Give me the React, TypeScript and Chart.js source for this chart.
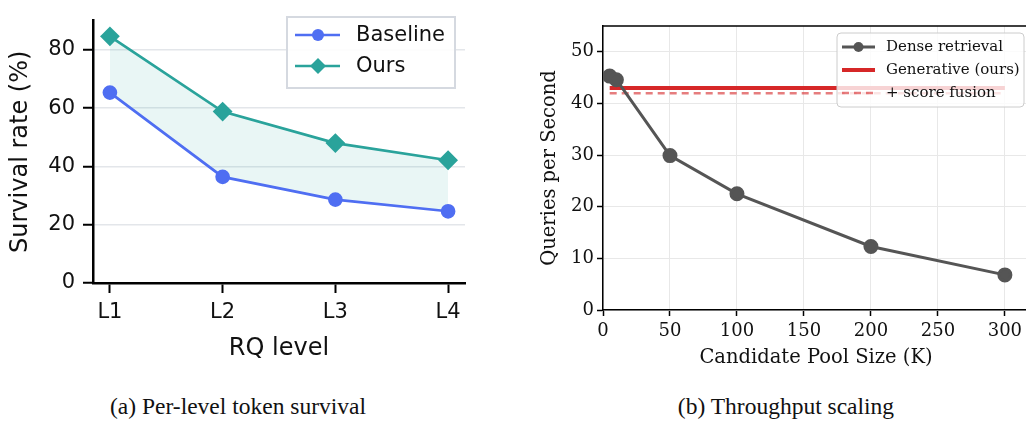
import React, { useEffect, useRef } from "react";
import { Chart, registerables } from "chart.js";

Chart.register(...registerables);

// ---- Data: (a) per-level token survival ----
const RQ_LEVELS = ["L1", "L2", "L3", "L4"];
const BASELINE_SURVIVAL = [65.3, 36.4, 28.6, 24.6];
const OURS_SURVIVAL = [84.6, 58.8, 48.0, 42.1];
const SURVIVAL_TICKS = [0, 20, 40, 60, 80];

// ---- Data: (b) throughput scaling ----
const POOL_SIZES = [5, 10, 50, 100, 200, 300];
const DENSE_QPS = [45.3, 44.6, 29.9, 22.5, 12.3, 6.8];
const GENERATIVE_QPS = 43.0;
const FUSION_QPS = 42.0;
const GEN_RANGE = [5, 300];
const QPS_TICKS = [0, 10, 20, 30, 40, 50];
const POOL_TICKS = [0, 50, 100, 150, 200, 250, 300];

const BLUE = "#4f6ef2";
const TEAL = "#2aa39b";
const GRAY = "#555555";
const RED = "#d62728";
const RED_LIGHT = "rgba(214,39,40,0.6)";

const SANS = "'DejaVu Sans'";
const SERIF = "'DejaVu Serif'";

function LeftChart() {
  const ref = useRef<HTMLCanvasElement | null>(null);
  useEffect(() => {
    if (!ref.current) return;
    const legendPlugin = {
      id: "leftLegend",
      afterDraw(chart: any) {
        const ctx = chart.ctx;
        ctx.save();
        ctx.fillStyle = "rgba(255,255,255,0.9)";
        ctx.strokeStyle = "#d5d9e0";
        ctx.lineWidth = 2;
        ctx.beginPath();
        ctx.rect(287, 17, 168, 71);
        ctx.fill();
        ctx.stroke();
        chart.data.datasets.forEach((ds: any, i: number) => {
          const y = 35 + i * 31;
          ctx.strokeStyle = ds.borderColor;
          ctx.lineWidth = 2.7;
          ctx.beginPath();
          ctx.moveTo(295, y);
          ctx.lineTo(340, y);
          ctx.stroke();
          ctx.fillStyle = ds.borderColor;
          ctx.beginPath();
          if (ds.pointStyle === "rectRot") {
            const r = 8;
            ctx.moveTo(318, y - r);
            ctx.lineTo(318 + r, y);
            ctx.lineTo(318, y + r);
            ctx.lineTo(318 - r, y);
            ctx.closePath();
          } else {
            ctx.arc(318, y, 6, 0, Math.PI * 2);
          }
          ctx.fill();
          ctx.fillStyle = "#111";
          ctx.font = `21px ${SANS}`;
          ctx.textBaseline = "middle";
          ctx.textAlign = "left";
          ctx.fillText(ds.label, 356, y + 1);
        });
        ctx.restore();
      },
    };
    const chart = new Chart(ref.current, {
      type: "line",
      data: {
        datasets: [
          {
            label: "Baseline",
            data: BASELINE_SURVIVAL.map((v, i) => ({ x: i, y: v })),
            borderColor: BLUE,
            backgroundColor: BLUE,
            pointBackgroundColor: BLUE,
            pointBorderColor: BLUE,
            borderWidth: 2.7,
            pointRadius: 6,
            pointStyle: "circle",
            fill: false,
          },
          {
            label: "Ours",
            data: OURS_SURVIVAL.map((v, i) => ({ x: i, y: v })),
            borderColor: TEAL,
            backgroundColor: "rgba(42,163,155,0.1)",
            pointBackgroundColor: TEAL,
            pointBorderColor: TEAL,
            borderWidth: 2.7,
            pointRadius: 8,
            pointStyle: "rectRot",
            fill: "-1",
          },
        ],
      },
      options: {
        responsive: false,
        animation: false,
        layout: { padding: { top: 7, right: 15, left: 0, bottom: 0 } },
        plugins: { legend: { display: false }, tooltip: { enabled: false } },
        scales: {
          x: {
            type: "linear",
            min: -0.15,
            max: 3.15,
            afterBuildTicks: (s: any) => {
              s.ticks = RQ_LEVELS.map((_, i) => ({ value: i }));
            },
            afterFit: (s: any) => {
              s.height = 97;
            },
            ticks: {
              callback: (v: any) => RQ_LEVELS[v as number] ?? "",
              font: { family: SANS, size: 21 },
              color: "#111",
              padding: 7,
              maxRotation: 0,
              autoSkip: false,
            },
            grid: {
              drawOnChartArea: false,
              drawTicks: true,
              tickLength: 10,
              tickColor: "#000",
              tickWidth: 2,
            },
            border: { color: "#000", width: 2.5 },
            title: {
              display: true,
              text: "RQ level",
              font: { family: SANS, size: 24 },
              color: "#111",
              padding: { top: 0, bottom: 17 },
            },
          },
          y: {
            min: 0,
            max: 90,
            afterBuildTicks: (s: any) => {
              s.ticks = SURVIVAL_TICKS.map((v) => ({ value: v }));
            },
            afterFit: (s: any) => {
              s.width = 93;
            },
            ticks: {
              font: { family: SANS, size: 21 },
              color: "#111",
              padding: 8,
            },
            grid: {
              color: "#e3e6ea",
              lineWidth: 1.5,
              drawTicks: true,
              tickLength: 10,
              tickColor: "#000",
              tickWidth: 2,
            },
            border: { color: "#000", width: 2.5 },
            title: {
              display: true,
              text: "Survival rate (%)",
              font: { family: SANS, size: 24 },
              color: "#111",
              padding: { top: 6, bottom: 0 },
            },
          },
        },
      },
      plugins: [legendPlugin],
    } as any);
    return () => chart.destroy();
  }, []);
  return <canvas ref={ref} width={480} height={380} style={{ width: 480, height: 380, display: "block" }} />;
}

function RightChart() {
  const ref = useRef<HTMLCanvasElement | null>(null);
  useEffect(() => {
    if (!ref.current) return;
    const framePlugin = {
      id: "frame",
      beforeDatasetsDraw(chart: any) {
        const { ctx, chartArea: a } = chart;
        ctx.save();
        ctx.strokeStyle = "#000";
        ctx.lineWidth = 1.5;
        ctx.beginPath();
        ctx.moveTo(a.left, a.top);
        ctx.lineTo(a.right, a.top);
        ctx.lineTo(a.right, a.bottom);
        ctx.stroke();
        ctx.restore();
      },
    };
    const legendPlugin = {
      id: "rightLegend",
      afterDraw(chart: any) {
        const ctx = chart.ctx;
        ctx.save();
        const x0 = 317, y0 = 33, w = 187, h = 74, r = 4;
        ctx.fillStyle = "rgba(255,255,255,0.8)";
        ctx.strokeStyle = "#cccccc";
        ctx.lineWidth = 1;
        ctx.beginPath();
        ctx.moveTo(x0 + r, y0);
        ctx.lineTo(x0 + w - r, y0);
        ctx.arcTo(x0 + w, y0, x0 + w, y0 + r, r);
        ctx.lineTo(x0 + w, y0 + h - r);
        ctx.arcTo(x0 + w, y0 + h, x0 + w - r, y0 + h, r);
        ctx.lineTo(x0 + r, y0 + h);
        ctx.arcTo(x0, y0 + h, x0, y0 + h - r, r);
        ctx.lineTo(x0, y0 + r);
        ctx.arcTo(x0, y0, x0 + r, y0, r);
        ctx.closePath();
        ctx.fill();
        ctx.stroke();
        chart.data.datasets.forEach((ds: any, i: number) => {
          const y = 47 + i * 23;
          ctx.strokeStyle = ds.borderColor;
          ctx.lineWidth = ds.borderWidth;
          ctx.setLineDash(ds.borderDash || []);
          ctx.beginPath();
          ctx.moveTo(322, y);
          ctx.lineTo(355, y);
          ctx.stroke();
          ctx.setLineDash([]);
          if (ds.pointRadius > 0) {
            ctx.fillStyle = ds.borderColor;
            ctx.beginPath();
            ctx.arc(338.5, y, 5, 0, Math.PI * 2);
            ctx.fill();
          }
          ctx.fillStyle = "#111";
          ctx.font = `15px ${SERIF}`;
          ctx.textBaseline = "middle";
          ctx.textAlign = "left";
          ctx.fillText(ds.label, 366, y);
        });
        ctx.restore();
      },
    };
    const chart = new Chart(ref.current, {
      type: "line",
      data: {
        datasets: [
          {
            label: "Dense retrieval",
            data: POOL_SIZES.map((x, i) => ({ x, y: DENSE_QPS[i] })),
            borderColor: GRAY,
            backgroundColor: GRAY,
            pointBackgroundColor: GRAY,
            pointBorderColor: GRAY,
            borderWidth: 3,
            pointRadius: 6,
            fill: false,
          },
          {
            label: "Generative (ours)",
            data: GEN_RANGE.map((x) => ({ x, y: GENERATIVE_QPS })),
            borderColor: RED,
            backgroundColor: RED,
            borderWidth: 4,
            pointRadius: 0,
            fill: false,
          },
          {
            label: "+ score fusion",
            data: GEN_RANGE.map((x) => ({ x, y: FUSION_QPS })),
            borderColor: RED_LIGHT,
            backgroundColor: RED_LIGHT,
            borderWidth: 2.5,
            borderDash: [7, 5],
            pointRadius: 0,
            fill: false,
          },
        ],
      },
      options: {
        responsive: false,
        animation: false,
        layout: { padding: { top: 26, right: 11, left: 0, bottom: 0 } },
        plugins: { legend: { display: false }, tooltip: { enabled: false } },
        scales: {
          x: {
            type: "linear",
            min: 0,
            max: 318,
            afterBuildTicks: (s: any) => {
              s.ticks = POOL_TICKS.map((v) => ({ value: v }));
            },
            afterFit: (s: any) => {
              s.height = 70;
            },
            ticks: {
              font: { family: SERIF, size: 18 },
              color: "#111",
              padding: 5,
              maxRotation: 0,
              autoSkip: false,
            },
            grid: {
              color: "#e8e8e8",
              lineWidth: 1,
              drawTicks: true,
              tickLength: 6,
              tickColor: "#000",
              tickWidth: 1.5,
            },
            border: { color: "#000", width: 1.5 },
            title: {
              display: true,
              text: "Candidate Pool Size (K)",
              font: { family: SERIF, size: 19.5 },
              color: "#111",
              padding: { top: 0, bottom: 10 },
            },
          },
          y: {
            min: 0,
            max: 55,
            afterBuildTicks: (s: any) => {
              s.ticks = QPS_TICKS.map((v) => ({ value: v }));
            },
            afterFit: (s: any) => {
              s.width = 83;
            },
            ticks: {
              font: { family: SERIF, size: 18 },
              color: "#111",
              padding: 3,
            },
            grid: {
              color: "#e8e8e8",
              lineWidth: 1,
              drawTicks: true,
              tickLength: 6,
              tickColor: "#000",
              tickWidth: 1.5,
            },
            border: { color: "#000", width: 1.5 },
            title: {
              display: true,
              text: "Queries per Second",
              font: { family: SERIF, size: 19.5 },
              color: "#111",
              padding: { top: 18, bottom: 0 },
            },
          },
        },
      },
      plugins: [framePlugin, legendPlugin],
    } as any);
    return () => chart.destroy();
  }, []);
  return <canvas ref={ref} width={520} height={380} style={{ width: 520, height: 380, display: "block" }} />;
}

export default function App() {
  const caption: React.CSSProperties = {
    position: "absolute",
    top: 394,
    fontFamily: "'Liberation Serif', 'Times New Roman', serif",
    fontSize: 23.5,
    lineHeight: "24px",
    textAlign: "center",
    color: "#111",
    whiteSpace: "nowrap",
  };
  return (
    <div
      style={{
        position: "absolute",
        left: 0,
        top: 0,
        width: 1026,
        height: 421,
        overflow: "hidden",
        background: "#fff",
      }}
    >
      <div style={{ position: "absolute", left: 0, top: 0 }}>
        <LeftChart />
      </div>
      <div style={{ position: "absolute", left: 520, top: 0 }}>
        <RightChart />
      </div>
      <div style={{ ...caption, left: 0, width: 476 }}>(a) Per-level token survival</div>
      <div style={{ ...caption, left: 546, width: 480 }}>(b) Throughput scaling</div>
    </div>
  );
}
